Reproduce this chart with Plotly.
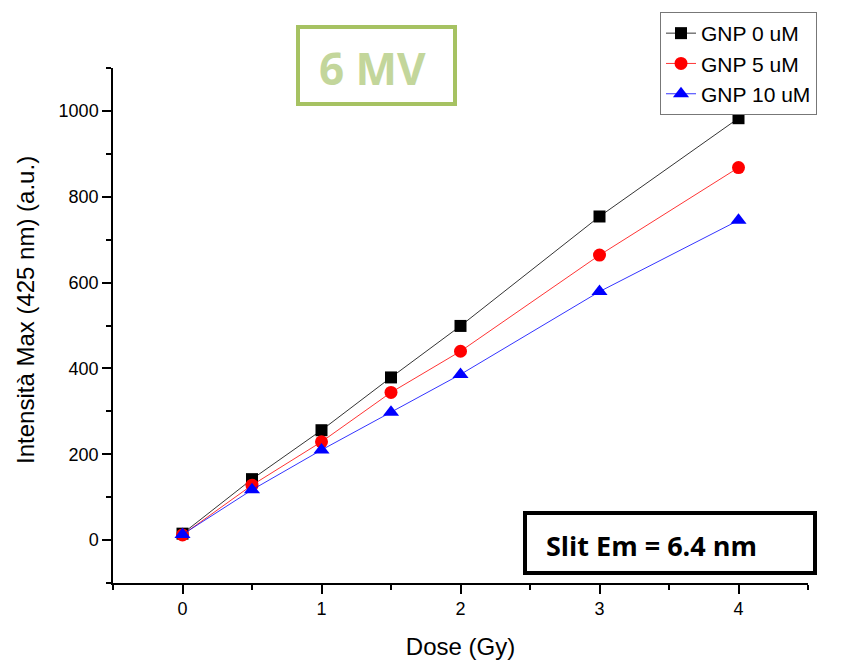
import plotly.graph_objects as go

dose = [0, 0.5, 1, 1.5, 2, 3, 4]
gnp0 = [15, 142, 256, 379, 499, 754, 983]
gnp5 = [12, 128, 229, 344, 440, 664, 868]
gnp10 = [13, 117, 210, 298, 386, 579, 745]
series_names = ["GNP 0 uM", "GNP 5 uM", "GNP 10 uM"]

font = "Arial"

fig = go.Figure()
specs = [
    (gnp0, "#000000", "square", 12),
    (gnp5, "#ff0000", "circle", 13),
    (gnp10, "#0000ff", "triangle-up", 14),
]
for name, (vals, col, sym, sz) in zip(series_names, specs):
    fig.add_trace(go.Scatter(
        x=dose, y=vals, name=name, mode="lines+markers",
        line=dict(color=col, width=0.8),
        marker=dict(symbol=sym, size=sz, color=col, line=dict(width=0)),
    ))

fig.update_layout(
    width=857, height=661,
    margin=dict(l=113, r=49, t=68, b=78),
    paper_bgcolor="white", plot_bgcolor="white",
    font=dict(family=font, size=18, color="#000000"),
    showlegend=True,
    legend=dict(
        x=(660 - 113) / 695, y=(583 - 12) / 515, xanchor="left", yanchor="top",
        xref="paper", yref="paper",
        bordercolor="#777777", borderwidth=1, bgcolor="white",
        font=dict(family=font, size=21), tracegroupgap=0,
    ),
    xaxis=dict(
        range=[-0.5, 4.5], tick0=0, dtick=1, automargin=False,
        ticks="outside", ticklen=9, tickwidth=1.5, tickcolor="#000",
        minor=dict(dtick=0.5, tick0=0, ticks="outside", ticklen=5, tickwidth=1.5, tickcolor="#000", showgrid=False),
        showline=True, linecolor="#000", linewidth=1.5,
        showgrid=False, zeroline=False,
        title=dict(text="Dose (Gy)", font=dict(size=24), standoff=20),
        tickfont=dict(size=18),
    ),
    yaxis=dict(
        range=[-100, 1100], tick0=0, dtick=200, automargin=False,
        ticks="outside", ticklen=9, tickwidth=1.5, tickcolor="#000",
        minor=dict(dtick=100, tick0=0, ticks="outside", ticklen=5, tickwidth=1.5, tickcolor="#000", showgrid=False),
        showline=True, linecolor="#000", linewidth=1.5,
        showgrid=False, zeroline=False,
        tickfont=dict(size=18),
    ),
)

# y-axis title
fig.add_annotation(xref="paper", yref="paper",
                   x=(25 - 113) / 695, y=(583 - 310) / 515,
                   xanchor="center", yanchor="middle", textangle=-90,
                   text="Intensità Max (425 nm) (a.u.)", showarrow=False,
                   font=dict(family=font, size=24, color="#000000"))

# 6 MV box
fig.add_shape(type="rect", xref="paper", yref="paper",
              x0=(298 - 113) / 695, x1=(455 - 113) / 695,
              y0=(583 - 104) / 515, y1=(583 - 27) / 515,
              line=dict(color="#a6c262", width=4), fillcolor="white")
fig.add_annotation(xref="paper", yref="paper",
                   x=(372 - 113) / 695, y=(583 - 68) / 515,
                   xanchor="center", yanchor="middle",
                   text="<b>6 MV</b>", showarrow=False,
                   font=dict(family="Open Sans", size=44, color="#c3d69b"))

# Slit box
fig.add_shape(type="rect", xref="paper", yref="paper",
              x0=(525 - 113) / 695, x1=(815 - 113) / 695,
              y0=(583 - 573) / 515, y1=(583 - 513) / 515,
              line=dict(color="#000000", width=4), fillcolor="white")
fig.add_annotation(xref="paper", yref="paper",
                   x=(651 - 113) / 695, y=(583 - 545) / 515,
                   xanchor="center", yanchor="middle",
                   text="<b>Slit Em = 6.4 nm</b>", showarrow=False,
                   font=dict(family="Open Sans", size=27, color="#000000"))

fig.write_html("out.html")
